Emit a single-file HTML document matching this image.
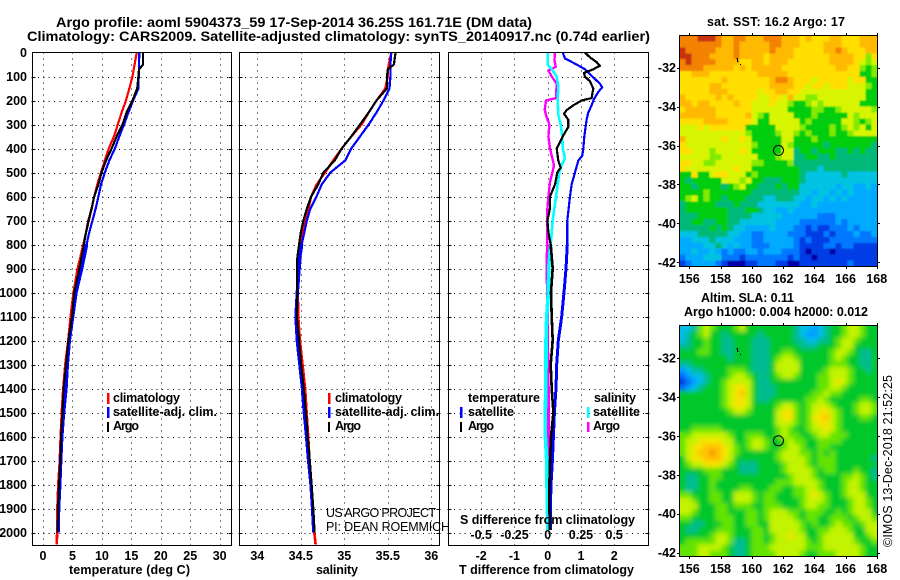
<!DOCTYPE html>
<html><head><meta charset="utf-8"><title>Argo profile</title>
<style>
html,body{margin:0;padding:0;background:#fff;width:900px;height:580px;overflow:hidden}
svg{display:block}
text{font-family:"Liberation Sans",sans-serif;fill:#000}
.b{font-weight:bold;font-size:12.5px}
.t{font-size:14px;font-weight:bold}
</style></head><body>
<svg id="chart" width="900" height="580" viewBox="0 0 900 580" xmlns="http://www.w3.org/2000/svg">
<defs>
<filter id="soft" x="-5%" y="-5%" width="110%" height="110%"><feGaussianBlur stdDeviation="2.4"/></filter>
<filter id="softer" x="-5%" y="-5%" width="110%" height="110%"><feGaussianBlur stdDeviation="0.9"/></filter>
<clipPath id="clip1"><rect x="679.5" y="35.5" width="198" height="231"/></clipPath>
<clipPath id="clip2"><rect x="679.5" y="325.5" width="198" height="231"/></clipPath>
</defs>
<g id="maps"></g>
<g id="grids"></g>
<g id="series"></g>
<g id="axes"></g>

<text class="t" x="56" y="27" textLength="476" lengthAdjust="spacingAndGlyphs">Argo profile: aoml 5904373_59 17-Sep-2014 36.25S 161.71E (DM data)</text>
<text class="t" x="27" y="41" textLength="623" lengthAdjust="spacingAndGlyphs">Climatology: CARS2009. Satellite-adjusted climatology: synTS_20140917.nc (0.74d earlier)</text>

<text class="b" x="69" y="574" textLength="121">temperature (deg C)</text>
<text class="b" x="316" y="574" textLength="42">salinity</text>
<text class="b" x="459" y="574" textLength="175">T difference from climatology</text>
<text class="b" x="460" y="524" textLength="175">S difference from climatology</text>

<g>
<rect x="107" y="393" width="2.5" height="11" fill="#f00"/>
<rect x="107" y="407" width="2.5" height="11" fill="#00f"/>
<rect x="107" y="422" width="2" height="10" fill="#000"/>
<text class="b" x="113" y="402" textLength="67">climatology</text>
<text class="b" x="113" y="416" textLength="104">satellite-adj. clim.</text>
<text class="b" x="113" y="430" textLength="26">Argo</text>
</g>
<g>
<rect x="328" y="393" width="2.5" height="11" fill="#f00"/>
<rect x="328" y="407" width="2.5" height="11" fill="#00f"/>
<rect x="328" y="422" width="2" height="10" fill="#000"/>
<text class="b" x="335" y="402" textLength="67">climatology</text>
<text class="b" x="335" y="416" textLength="104">satellite-adj. clim.</text>
<text class="b" x="335" y="430" textLength="26">Argo</text>
</g>
<text x="326" y="517" font-size="12.5" textLength="110">US ARGO PROJECT</text>
<text x="326" y="531" font-size="12.5" textLength="124">PI: DEAN ROEMMICH</text>
<g>
<text class="b" x="468" y="402" textLength="72">temperature</text>
<rect x="460" y="407" width="2.5" height="11" fill="#00f"/>
<rect x="460" y="422" width="2" height="10" fill="#000"/>
<text class="b" x="468" y="416" textLength="46">satellite</text>
<text class="b" x="468" y="430" textLength="26">Argo</text>
<text class="b" x="594" y="402" textLength="42">salinity</text>
<rect x="587" y="407" width="2.5" height="11" fill="#0ff"/>
<rect x="587" y="422" width="2.5" height="10" fill="#f0f"/>
<text class="b" x="593" y="416" textLength="47">satellite</text>
<text class="b" x="593" y="430" textLength="27">Argo</text>
</g>

<text class="b" x="707" y="26" textLength="138">sat. SST: 16.2 Argo: 17</text>
<text class="b" x="701" y="302" textLength="93">Altim. SLA: 0.11</text>
<text class="b" x="684" y="316" textLength="184">Argo h1000: 0.004 h2000: 0.012</text>
<text x="0" y="0" font-size="12.5" textLength="172" transform="translate(892,547) rotate(-90)">©IMOS 13-Dec-2018 21:52:25</text>
</svg>
<script>
// ---- profile data ----
const depths = [0,50,70,100,150,200,250,300,350,400,450,500,550,600,650,700,750,800,850,900,1000,1100,1200,1300,1400,1500,1600,1700,1800,1900,2000,2050];
const tempClim = [15.9,15.55,15.4,15.2,14.65,14.1,13.35,12.7,12.05,11.15,10.5,9.85,9.2,8.7,8.27,7.8,7.3,6.85,6.4,5.9,5.2,4.7,4.3,3.79,3.45,3.2,3.0,2.85,2.6,2.45,2.4,2.35];
const tempSat = [16.35,16.3,16.3,16.25,16.2,15.3,14.5,13.75,12.95,12.2,11.25,10.5,9.85,9.4,8.95,8.4,7.85,7.4,7.0,6.57,5.6,5.04,4.46,4.13,3.9,3.5,3.2,3.0,2.85,2.65,2.6,null];
const tempArgo = [17,17,16.3,16.2,16.0,15.2,14.2,13.5,12.5,11.65,10.7,9.95,9.4,8.7,8.25,7.7,7.3,6.95,6.55,6.17,5.3,4.92,4.3,3.9,3.5,3.3,3.05,2.95,2.7,2.55,2.5,null];
const salClim = [35.54,35.51,35.5,35.5,35.47,35.37,35.28,35.2,35.08,34.97,34.87,34.78,34.68,34.62,34.59,34.55,34.52,34.5,34.48,34.46,34.465,34.47,34.49,34.52,34.55,34.567,34.585,34.6,34.62,34.64,34.655,34.67];
const salSat = [35.54,35.53,35.53,35.53,35.52,35.45,35.37,35.28,35.18,35.08,35.01,34.84,34.74,34.68,34.61,34.57,34.54,34.51,34.49,34.48,34.46,34.445,34.46,34.49,34.52,34.54,34.567,34.59,34.617,34.636,34.65,null];
const salArgo = [35.59,35.57,35.5,35.49,35.49,35.37,35.28,35.18,35.08,34.97,34.89,34.76,34.7,34.62,34.57,34.53,34.5,34.48,34.46,34.455,34.46,34.455,34.48,34.505,34.535,34.56,34.58,34.605,34.625,34.645,34.66,null];
const dtSatDepths = [0,25,50,70,100,130,145,165,195,220,250,280,350,400,430,450,500,550,600,700,800,900,1000,1100,1200,1300,1400,1500,1600,1700,1800,1900,1990];
const dtSat = [.45,.52,.87,1.12,1.34,1.57,1.64,1.52,1.39,1.32,1.22,1.17,1.10,1.07,1.04,.92,.82,.72,.67,.59,.59,.55,.49,.42,.32,.27,.25,.20,.17,.14,.10,.08,.08];
const dtArgoDepths = [0,20,40,55,70,85,100,120,150,190,200,220,240,255,280,310,350,400,450,480,500,550,600,650,700,750,800,900,1000,1100,1200,1300,1400,1500,1600,1700,1800,1900,1990];
const dtArgo = [1.12,1.27,1.47,1.57,1.37,1.09,1.12,1.27,1.37,1.32,1.02,.77,.57,.49,.62,.62,.45,.27,.32,.39,.29,.22,.07,.07,-.01,.02,.09,.15,.10,.12,.15,.09,.12,.17,.10,.07,.05,.05,.07];
const dsSatDepths = [0,50,70,100,140,200,260,300,350,400,440,470,500,600,700,800,900,1000,1100,1200,1300,1400,1500,1600,1700,1800,1900,1990];
const dsSat = [0,0,.03,.0675,.08,.075,.08,.0975,.11,.1125,.13,.105,.0875,.0625,.0375,.0225,.0075,.005,-.0075,-.0125,-.0125,-.015,-.0175,-.0175,-.0075,-.005,-.0025,.0025];
const dsArgoDepths = [0,30,60,75,100,130,190,200,240,270,300,350,400,430,470,500,540,600,650,700,800,900,1000,1100,1200,1300,1400,1500,1600,1700,1800,1900,1990];
const dsArgo = [.055,.05,.06,.005,.03,.0675,.0625,-.0125,-.0225,-.0075,.0125,.005,.0175,.03,.0475,.035,.0175,.005,-.0025,-.0025,-.0025,-.0075,-.0025,0,0,.0025,.005,.005,.005,.005,.005,.0075,.01];

// ---- tick labels ----
const depthTicks = [0,100,200,300,400,500,600,700,800,900,1000,1100,1200,1300,1400,1500,1600,1700,1800,1900,2000];
const tempTicks = [0,5,10,15,20,25,30];
const salTicks = [34,34.5,35,35.5,36];
const dtTicks = [-2,-1,0,1,2];
const dsTicks = [-0.5,-0.25,0,0.25,0.5];
const lonTicks = [156,158,160,162,164,166,168];
const latTicks = [-32,-34,-36,-38,-40,-42];
const argoLon = [161.71];
const argoLat = [-36.25];

// ---- map grids (colour levels 0 dark blue .. 12 brown red) ----
const sstGrid = [
[11,11,11,12,12,12,11,10,10,11,11,10,10,10,11,11,11,10,10,10,9,10,9,9,9,10,10,9,9,9,10,10,10],
[11,11,11,11,11,11,11,10,10,11,10,10,10,10,10,11,11,10,10,10,9,9,9,9,10,10,10,9,9,9,10,10,10],
[12,11,11,11,11,11,10,10,10,11,10,10,10,10,10,11,10,10,10,9,9,9,9,9,10,10,11,10,9,9,9,10,10],
[12,12,11,11,11,10,10,10,10,11,10,10,10,10,9,10,10,10,10,9,9,9,9,9,9,10,10,10,10,9,9,7,9],
[11,12,11,11,11,11,10,10,10,10,9,9,10,10,9,10,10,10,9,9,9,9,9,9,9,10,10,10,10,9,8,7,8],
[11,11,11,11,10,10,10,10,10,9,10,9,10,10,10,10,10,9,9,9,9,9,9,9,9,9,10,10,9,9,7,6,7],
[9,9,10,10,10,9,9,9,9,9,9,9,9,10,10,10,10,10,9,9,9,9,9,9,9,9,9,9,9,9,6,6,7],
[9,9,9,9,9,9,9,10,9,9,9,9,9,9,9,10,11,11,10,9,9,9,8,9,9,9,9,9,8,9,9,6,6],
[9,9,9,9,9,10,10,9,9,9,9,9,9,9,9,10,10,10,10,9,9,8,9,9,8,9,9,9,8,8,8,7,6],
[9,9,9,9,9,10,10,10,9,9,9,9,9,8,9,9,10,10,9,9,8,8,8,8,8,8,8,8,8,8,8,6,6],
[10,9,9,9,9,9,10,9,10,9,9,9,9,8,8,9,9,8,10,8,8,7,7,8,8,8,8,8,8,8,8,6,6],
[10,10,9,10,10,9,9,9,9,10,9,9,8,8,8,9,8,8,7,6,6,7,8,7,8,8,8,8,8,8,6,6,6],
[9,10,10,10,10,10,9,9,9,9,9,9,8,8,8,8,8,8,6,6,6,6,7,7,6,6,7,8,8,8,8,8,7],
[10,10,10,10,10,10,9,9,9,9,9,10,8,7,6,8,8,8,8,6,6,6,7,6,6,6,6,6,8,7,8,8,8],
[9,9,9,9,10,10,10,10,9,9,9,9,8,6,6,8,8,8,8,8,6,7,6,6,6,6,6,8,8,7,6,7,8],
[8,8,8,9,8,9,9,9,9,9,9,6,6,6,6,6,8,8,8,8,7,6,6,6,6,7,6,7,8,7,8,6,8],
[8,8,8,8,8,8,8,8,8,8,8,7,6,6,6,6,7,8,8,7,6,7,6,6,6,7,6,6,7,8,8,8,8],
[10,8,8,8,8,8,8,9,8,8,9,8,6,6,6,6,6,8,8,6,6,6,7,6,6,6,6,6,6,6,6,6,6],
[9,8,8,8,8,8,8,8,8,8,8,8,7,6,6,6,6,8,7,6,6,6,6,6,5,6,6,6,6,6,6,6,5],
[9,9,8,8,8,7,8,8,8,8,9,8,6,6,6,6,6,8,8,5,6,6,5,6,6,6,5,5,6,5,6,5,5],
[8,8,8,8,8,7,7,8,8,8,8,8,8,6,6,6,7,8,8,5,5,6,6,5,5,6,5,5,5,5,5,5,5],
[9,9,8,8,7,7,8,8,8,8,8,8,7,7,6,6,6,6,7,5,5,5,5,5,5,5,5,5,5,5,5,5,5],
[9,8,8,8,8,8,8,8,8,9,8,8,6,6,6,6,6,6,6,6,5,5,5,4,5,5,5,5,5,5,5,5,5],
[6,6,9,6,6,8,9,9,8,8,8,6,7,6,6,6,6,6,6,6,5,4,4,4,4,4,4,5,4,4,4,4,4],
[6,5,6,6,6,6,6,8,8,8,7,8,6,6,5,5,5,6,6,6,5,4,4,4,4,4,4,4,4,4,4,4,4],
[6,6,5,6,6,6,6,5,6,7,8,6,6,5,5,5,6,5,6,6,4,4,4,4,4,4,3,4,4,3,3,4,3],
[6,6,6,6,7,6,6,6,6,6,6,6,5,5,5,5,5,5,5,5,4,4,3,4,4,3,4,3,4,3,3,3,3],
[6,7,8,6,7,6,6,5,6,6,6,5,5,5,4,4,5,5,5,4,4,3,4,4,3,4,3,4,3,3,3,3,3],
[5,6,6,6,6,6,5,5,5,6,5,5,5,4,4,4,4,4,4,4,3,3,4,3,3,3,3,3,3,3,3,3,3],
[5,6,6,6,6,6,6,6,5,5,5,6,6,5,4,4,3,3,4,3,3,3,3,3,3,3,3,3,3,3,3,3,3],
[5,5,5,6,6,6,6,6,5,5,5,5,4,4,4,4,4,3,3,3,3,3,3,2,2,2,3,3,3,3,3,3,3],
[5,5,6,6,5,5,6,6,5,5,4,4,4,4,4,4,3,3,3,3,2,2,2,2,2,2,3,2,3,3,3,3,3],
[5,5,5,5,5,6,5,6,5,4,4,3,3,3,3,4,3,3,3,2,2,1,2,1,1,2,2,2,3,2,3,3,3],
[4,4,4,5,5,5,5,5,4,4,3,3,2,2,3,3,3,3,2,2,2,1,1,1,2,1,2,2,2,3,2,2,3],
[3,3,4,4,4,5,4,4,4,3,3,3,2,2,3,3,3,3,3,2,1,2,1,1,1,2,2,2,2,2,2,2,2],
[3,3,3,3,4,4,5,4,3,4,3,3,2,2,2,3,3,3,3,2,1,1,1,1,2,2,1,2,2,1,1,1,1],
[3,3,4,3,3,4,3,2,3,2,2,3,3,2,3,3,3,2,2,2,1,0,1,1,1,0,1,1,1,1,1,1,1],
[2,3,3,3,4,4,4,2,2,2,1,2,2,2,2,2,2,2,1,2,1,1,0,1,1,1,1,1,1,1,1,1,1],
[1,2,3,3,3,3,2,1,0,0,0,1,1,2,2,2,1,1,0,0,1,1,1,1,1,1,1,1,2,1,1,1,1]
];
const slaGrid = [
[4,4,5,7,8,7,6,6,6,7,8,6,6,6,6,6,6,6,6,5,4,4,3,4,5,6,6,7,8,8,7,6,6],
[4,5,6,7,8,6,6,5,6,6,6,6,6,5,6,6,6,6,6,5,4,3,3,4,5,6,6,7,8,8,7,6,6],
[4,5,6,6,7,6,6,5,5,6,6,6,5,5,5,6,6,6,6,5,5,4,4,5,5,6,7,8,8,7,6,6,6],
[5,5,6,6,7,6,6,5,5,6,6,6,5,5,5,6,6,6,6,6,5,5,5,6,6,6,7,8,8,6,6,6,6],
[6,6,6,7,7,6,6,5,5,6,6,6,5,5,5,6,6,7,7,6,6,6,6,6,6,7,8,8,7,6,5,5,6],
[6,6,6,6,6,6,6,6,5,6,6,6,5,5,5,6,7,8,8,7,6,6,6,6,6,7,8,7,6,6,5,5,6],
[5,5,6,6,6,6,6,6,6,6,6,6,5,5,5,6,8,8,8,8,6,6,6,6,6,7,7,7,6,6,5,5,6],
[3,4,5,5,6,6,6,6,7,7,7,6,5,5,5,6,8,8,8,8,6,6,6,6,7,8,8,8,7,6,6,5,6],
[2,3,4,4,5,6,6,6,7,8,8,7,6,5,5,6,7,8,8,7,6,6,6,7,7,8,8,8,7,6,6,6,6],
[1,2,3,4,5,6,6,7,8,8,8,8,6,5,5,6,6,6,6,6,6,6,6,7,7,8,9,8,7,6,6,6,6],
[2,3,4,5,6,6,6,7,8,9,9,8,6,5,5,5,6,6,6,6,6,6,6,7,7,8,8,7,6,6,6,6,6],
[6,6,6,6,6,6,6,7,8,9,10,8,6,5,5,5,6,6,6,6,6,6,7,7,8,7,7,6,6,6,6,6,6],
[6,6,6,6,6,6,6,7,8,9,9,8,6,5,5,6,6,6,6,6,6,7,7,8,7,6,6,6,6,6,7,7,6],
[6,6,6,6,6,6,6,7,8,9,9,8,6,6,6,6,7,8,8,7,6,7,8,8,8,7,6,6,6,7,8,8,7],
[6,6,6,6,6,6,6,6,7,8,8,7,6,6,6,6,8,9,9,7,6,7,8,9,9,8,7,6,6,7,8,8,7],
[6,6,6,6,6,6,6,6,6,6,6,6,6,6,6,6,8,9,9,7,6,7,9,9,10,8,7,6,6,6,7,7,6],
[6,6,6,6,6,6,6,6,6,6,6,6,6,6,6,6,8,8,8,7,6,7,8,9,9,8,7,6,6,6,6,6,6],
[6,6,7,7,7,7,7,6,6,6,6,6,6,6,6,6,7,8,7,6,6,7,8,8,9,8,7,6,6,6,6,6,6],
[7,7,8,8,8,8,8,8,7,6,6,7,7,7,6,6,7,8,7,7,6,6,7,8,8,7,7,7,6,6,6,6,6],
[7,8,8,9,9,9,9,8,8,6,6,7,8,8,7,6,6,7,8,7,7,6,6,7,7,7,7,6,6,6,6,6,6],
[7,8,9,9,10,10,10,9,8,7,6,7,8,8,7,6,6,7,8,8,7,6,6,7,7,6,6,6,6,6,6,6,6],
[7,8,9,10,10,11,10,9,8,7,6,6,6,6,6,6,7,8,8,8,7,7,6,7,6,7,6,6,6,6,6,6,6],
[6,8,9,9,10,10,10,9,8,6,6,6,6,6,6,6,7,8,8,8,8,7,6,7,7,7,6,6,6,6,6,6,5],
[6,7,8,8,9,9,9,8,7,6,5,5,5,6,6,6,6,7,8,8,8,7,6,7,7,7,6,6,6,6,6,6,6],
[6,6,6,6,7,7,7,6,6,6,5,5,5,6,6,6,6,7,8,8,8,8,7,6,7,7,6,6,6,7,6,6,5],
[6,5,5,6,6,7,7,6,6,6,6,6,6,6,6,6,6,6,7,8,8,8,7,6,6,6,6,7,7,8,7,6,5],
[6,5,5,6,6,7,6,6,6,6,6,6,6,6,6,6,7,7,7,8,8,8,8,7,6,6,6,7,8,8,7,6,6],
[6,5,5,6,6,7,6,6,6,6,7,7,6,6,6,7,7,6,6,7,7,8,8,7,6,6,6,7,8,8,7,6,6],
[7,7,6,6,6,7,7,6,6,8,8,8,7,6,7,7,6,6,6,7,7,8,9,8,7,6,6,7,8,8,8,6,6],
[8,8,7,6,6,7,7,6,6,8,8,8,7,6,7,7,6,6,6,6,7,8,8,8,7,6,6,6,7,8,8,7,6],
[8,8,8,6,6,6,7,7,6,7,7,7,6,6,7,7,7,6,6,6,7,8,8,7,7,6,6,6,7,8,8,7,6],
[8,8,7,6,6,6,7,7,6,6,6,7,7,6,7,8,8,8,7,7,6,7,7,7,6,6,7,6,7,8,8,8,6],
[7,7,6,6,6,6,7,7,7,6,6,7,7,6,7,8,8,8,8,7,6,7,7,6,6,7,7,7,6,7,8,8,7],
[6,6,5,5,6,6,6,7,7,6,6,7,7,6,6,8,8,8,8,8,7,6,7,6,6,7,8,7,7,6,7,8,8],
[6,5,5,6,6,6,7,7,7,6,6,6,7,7,6,8,8,8,8,8,7,6,6,7,7,8,8,8,7,6,6,8,8],
[6,6,6,6,6,7,8,8,7,6,6,6,7,7,6,7,8,8,9,8,8,6,6,7,8,8,8,8,8,6,6,7,8],
[6,7,7,7,7,7,8,8,7,5,5,6,7,7,6,7,8,8,8,8,8,7,6,7,8,8,8,8,8,7,6,6,7],
[7,7,7,8,8,8,8,7,6,5,5,6,7,7,7,8,8,8,8,8,8,7,7,7,8,8,8,8,8,8,7,6,6],
[7,7,7,8,8,7,7,7,6,5,5,6,7,7,7,7,8,8,8,8,7,6,6,7,7,7,8,8,8,8,7,6,6]
];
const paletteR = [0,0,0,0,0,0,0,130,215,255,255,242,200];
const paletteG = [0,60,120,170,195,185,205,235,245,222,185,130,50];
const paletteB = [170,230,255,255,225,120,15,0,0,0,0,0,10];

// ---- scales ----
const NS = 'http://www.w3.org/2000/svg';
const yD = d => 52.5 + d * 0.24;
const xTemp = v => 43 + v * 5.89;
const xSal = v => 257.3 + (v - 34) * 87;
const xDT = v => 547.7 + v * 33.25;
const xDS = v => 547.7 + v * 133;
const xLon = v => 689.3 + (v - 156) * 15.62;
const yLat1 = v => 67.7 + (-32 - v) * 19.46;
const yLat2 = v => 358 + (-32 - v) * 19.46;
const levelColor = v => {
  const i = Math.max(0, Math.min(11, Math.floor(v)));
  const f = Math.max(0, Math.min(1, v - i));
  const c = a => Math.round(a[i] + (a[i + 1] - a[i]) * f);
  return 'rgb(' + c(paletteR) + ',' + c(paletteG) + ',' + c(paletteB) + ')';
};
function mk(parent, tag, attrs, txt) {
  const el = document.createElementNS(NS, tag);
  for (const k in attrs) el.setAttribute(k, attrs[k]);
  if (txt !== undefined) el.textContent = txt;
  parent.appendChild(el);
  return el;
}
const gMaps = document.getElementById('maps');
const gGrid = document.getElementById('grids');
const gSeries = document.getElementById('series');
const gAxes = document.getElementById('axes');

// ---- profile panels ----
const panels = [
  {l: 32.5, r: 231.5, name: 'temperature', scale: xTemp, ticks: tempTicks},
  {l: 239.5, r: 439.5, name: 'salinity', scale: xSal, ticks: salTicks},
  {l: 448.5, r: 648.5, name: 'difference', scale: xDT, ticks: dtTicks}
];
const panelTop = 52.5, panelBottom = 545.5;
panels.forEach(function (p) {
  depthTicks.forEach(function (d) {
    if (d === 0) return;
    const y = Math.round(yD(d)) + 0.5;
    const h = mk(gGrid, 'line', {x1: p.l, x2: p.r, y1: y, y2: y, stroke: '#000', 'stroke-dasharray': '1 4.4', 'shape-rendering': 'crispEdges'});
    
    
    const t1 = mk(gAxes, 'path', {d: 'M' + (p.l - 1) + ' ' + y + 'h4M' + (p.r + 1) + ' ' + y + 'h-4', stroke: '#000', 'shape-rendering': 'crispEdges'});
    
    
  });
  p.ticks.forEach(function (v) {
    const x = Math.round(p.scale(v)) + 0.5;
    const g = mk(gGrid, 'line', {x1: x, x2: x, y1: panelTop, y2: panelBottom, stroke: '#000', 'stroke-dasharray': '1 5', 'shape-rendering': 'crispEdges'});
    
    
    const lab = mk(gAxes, 'text', {x: p.scale(v), y: 560, 'text-anchor': 'middle', class: 'b'}, String(v));
    
    
  });
  const f = mk(gAxes, 'rect', {x: p.l, y: panelTop, width: p.r - p.l, height: panelBottom - panelTop, fill: 'none', stroke: '#000', 'stroke-width': 1.4, 'shape-rendering': 'crispEdges'});
  
  
});
depthTicks.forEach(function (d) {
  const lab = mk(gAxes, 'text', {x: 27, y: yD(d) + 4.5, 'text-anchor': 'end', class: 'b'}, String(d));
  
  
});
dsTicks.forEach(function (v) {
  const lab = mk(gAxes, 'text', {x: xDS(v), y: 539, 'text-anchor': 'middle', class: 'b'}, String(v));
  
  
});

// Lines are drawn in two pieces: the near-vertical deep part is heavier in the reference.
function drawLine(ds, vs, sx, color, width, name, deepWidth) {
  let upper = '';
  let lower = '';
  vs.forEach(function (v, i) {
    if (v === null) return;
    const pt = sx(v).toFixed(1) + ',' + yD(ds[i]).toFixed(1) + ' ';
    if (ds[i] <= 800) upper += pt;
    if (ds[i] >= 800) lower += pt;
  });
  const l = mk(gSeries, 'polyline', {points: upper, fill: 'none', stroke: color, 'stroke-width': width, 'shape-rendering': 'crispEdges', 'stroke-linejoin': 'round'});
  
  
  const d = mk(gSeries, 'polyline', {points: lower, fill: 'none', stroke: color, 'stroke-width': deepWidth, 'shape-rendering': 'crispEdges', 'stroke-linejoin': 'round'});
  
  
}
drawLine(depths, tempClim, xTemp, '#f00', 2.2, 'temperature-climatology-line', 2.6);
drawLine(depths, tempSat, xTemp, '#00f', 2.2, 'temperature-satellite-line', 3.4);
drawLine(depths, tempArgo, xTemp, '#000', 2.2, 'temperature-argo-line', 2);
drawLine(depths, salClim, xSal, '#f00', 2.2, 'salinity-climatology-line', 2.6);
drawLine(depths, salSat, xSal, '#00f', 2.2, 'salinity-satellite-line', 3.4);
drawLine(depths, salArgo, xSal, '#000', 2.2, 'salinity-argo-line', 2);
drawLine(dsArgoDepths, dsArgo, xDS, '#f0f', 2.4, 's-difference-argo-line', 2.8);
drawLine(dtSatDepths, dtSat, xDT, '#00f', 2.2, 't-difference-satellite-line', 3);
drawLine(dsSatDepths, dsSat, xDS, '#0ff', 2.6, 's-difference-satellite-line', 3.6);
drawLine(dtArgoDepths, dtArgo, xDT, '#000', 2.2, 't-difference-argo-line', 2.6);

// ---- maps ----
function drawMap(grid, top, yLat, name, clipId, filterId, bias) {
  const L = 679.5, W = 198, H = 231;
  const layer = mk(gMaps, 'g', {'clip-path': 'url(#' + clipId + ')'});
  
  
  function paint(target) {
    grid.forEach(function (row, r) {
      row.forEach(function (v, c) {
        const cell = mk(target, 'rect', {x: (L + c * W / row.length).toFixed(2), y: (top + r * H / grid.length).toFixed(2), width: (W / row.length + 0.6).toFixed(2), height: (H / grid.length + 0.6).toFixed(2), fill: levelColor(v - bias), 'shape-rendering': 'crispEdges'});
        
        
      });
    });
  }
  paint(layer);
  const soft = mk(layer, 'g', {filter: 'url(#' + filterId + ')'});
  paint(soft);
  const frame = mk(gAxes, 'rect', {x: L, y: top, width: W, height: H, fill: 'none', stroke: '#000', 'stroke-width': 1.2, 'shape-rendering': 'crispEdges'});
  
  
  lonTicks.forEach(function (lon) {
    const x = Math.round(xLon(lon)) + 0.5;
    const t = mk(gAxes, 'path', {d: 'M' + x + ' ' + top + 'v-2.5M' + x + ' ' + (top + H) + 'v2.5', stroke: '#000', 'shape-rendering': 'crispEdges'});
    
    
    const lab = mk(gAxes, 'text', {x: xLon(lon), y: top + H + 16.5, 'text-anchor': 'middle', class: 'b'}, String(lon));
    
    
  });
  latTicks.forEach(function (lat) {
    const y = Math.round(yLat(lat)) + 0.5;
    const t = mk(gAxes, 'path', {d: 'M' + L + ' ' + y + 'h-2.5M' + (L + W) + ' ' + y + 'h2.5', stroke: '#000', 'shape-rendering': 'crispEdges'});
    
    
    const lab = mk(gAxes, 'text', {x: 676, y: yLat(lat) + 4.5, 'text-anchor': 'end', class: 'b'}, String(lat));
    
    
  });
  const ring = mk(gAxes, 'circle', {cx: xLon(argoLon[0]), cy: yLat(argoLat[0]), r: 5, fill: 'none', stroke: '#000', 'stroke-width': 1});
  
  
  const islet = mk(gAxes, 'path', {d: 'M736.5 ' + (top + 23) + 'h1v3h1M740 ' + (top + 29) + 'h1', stroke: '#000', fill: 'none', 'shape-rendering': 'crispEdges'});
  
  
}
drawMap(sstGrid, 35.5, yLat1, 'sst', 'clip1', 'softer', 0);
drawMap(slaGrid, 325.5, yLat2, 'sla', 'clip2', 'soft', 0.25);
</script>
</body></html>
